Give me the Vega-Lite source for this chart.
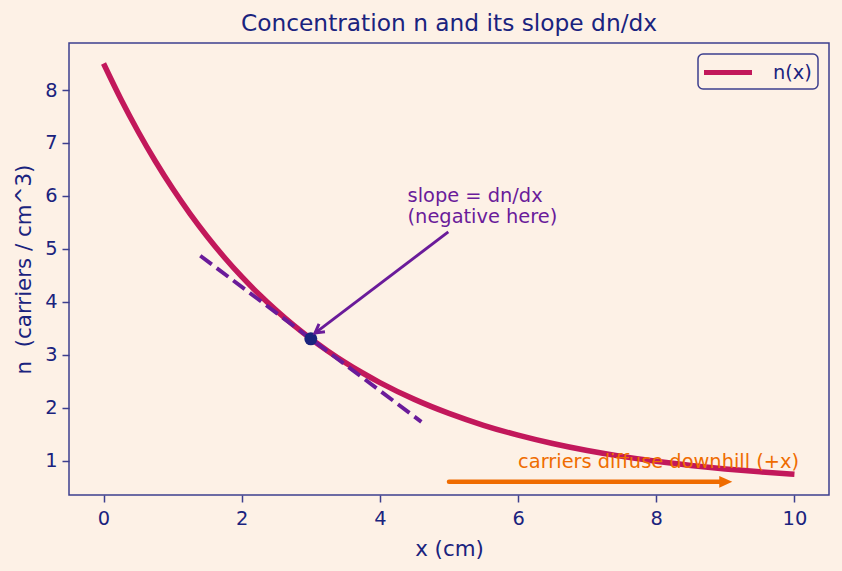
{
  "$schema": "https://vega.github.io/schema/vega-lite/v6.json",
  "width": 760,
  "height": 452,
  "autosize": {"type": "none"},
  "padding": {"left": 69, "top": 43, "right": 13, "bottom": 76},
  "background": "#fdf1e6",
  "title": {"text": "Concentration n and its slope dn/dx", "fontSize": 23.3, "font": "DejaVu Sans", "fontWeight": "normal", "color": "#1a237e", "offset": 7, "anchor": "middle"},
  "config": {
    "view": {"stroke": "#3d3f8e", "strokeWidth": 1.5, "fill": "#fdf1e6"},
    "axis": {"grid": false, "domain": false, "tickColor": "#3d3f8e", "tickWidth": 1.5, "tickSize": 7, "labelFont": "DejaVu Sans", "labelFontSize": 19.4, "labelColor": "#1a237e", "titleFont": "DejaVu Sans", "titleFontSize": 21.4, "titleFontWeight": "normal", "titleColor": "#1a237e"},
    "legend": {"strokeWidth": 1.5},
    "text": {"font": "DejaVu Sans"}
  },
  "layer": [
    {
      "data": {"values": [
        {"x": 0, "n": 8.5, "series": "n(x)"},
        {"x": 0.25, "n": 7.83, "series": "n(x)"},
        {"x": 0.5, "n": 7.217, "series": "n(x)"},
        {"x": 0.75, "n": 6.655, "series": "n(x)"},
        {"x": 1, "n": 6.139, "series": "n(x)"},
        {"x": 1.25, "n": 5.667, "series": "n(x)"},
        {"x": 1.5, "n": 5.235, "series": "n(x)"},
        {"x": 1.75, "n": 4.838, "series": "n(x)"},
        {"x": 2, "n": 4.475, "series": "n(x)"},
        {"x": 2.25, "n": 4.143, "series": "n(x)"},
        {"x": 2.5, "n": 3.838, "series": "n(x)"},
        {"x": 2.75, "n": 3.558, "series": "n(x)"},
        {"x": 3, "n": 3.302, "series": "n(x)"},
        {"x": 3.25, "n": 3.068, "series": "n(x)"},
        {"x": 3.5, "n": 2.853, "series": "n(x)"},
        {"x": 3.75, "n": 2.656, "series": "n(x)"},
        {"x": 4, "n": 2.475, "series": "n(x)"},
        {"x": 4.5, "n": 2.158, "series": "n(x)"},
        {"x": 5, "n": 1.893, "series": "n(x)"},
        {"x": 5.5, "n": 1.669, "series": "n(x)"},
        {"x": 6, "n": 1.482, "series": "n(x)"},
        {"x": 6.5, "n": 1.324, "series": "n(x)"},
        {"x": 7, "n": 1.192, "series": "n(x)"},
        {"x": 7.5, "n": 1.081, "series": "n(x)"},
        {"x": 8, "n": 0.988, "series": "n(x)"},
        {"x": 8.5, "n": 0.91, "series": "n(x)"},
        {"x": 9, "n": 0.844, "series": "n(x)"},
        {"x": 9.5, "n": 0.789, "series": "n(x)"},
        {"x": 10, "n": 0.742, "series": "n(x)"}
      ]},
      "mark": {"type": "line", "strokeWidth": 5.5, "interpolate": "monotone"},
      "encoding": {
        "x": {"field": "x", "type": "quantitative", "scale": {"domain": [-0.5, 10.5], "nice": false, "zero": false}, "axis": {"values": [0, 2, 4, 6, 8, 10], "format": "d", "title": "x (cm)", "labelPadding": 7, "titlePadding": 11}},
        "y": {"field": "n", "type": "quantitative", "scale": {"domain": [0.352, 8.888], "nice": false, "zero": false}, "axis": {"values": [1, 2, 3, 4, 5, 6, 7, 8], "format": "d", "title": "n\u00a0\u00a0(carriers / cm^3)", "labelPadding": 5, "titlePadding": 10}},
        "color": {"field": "series", "type": "nominal", "scale": {"domain": ["n(x)"], "range": ["#c2185b"]}, "legend": {"title": null, "orient": "top-right", "offset": 11, "symbolType": "M -1.25 0 L 3.55 0", "symbolSize": 400, "symbolStrokeWidth": 5, "labelFontSize": 19.4, "labelColor": "#1a237e", "labelFont": "DejaVu Sans", "labelOffset": 44, "strokeColor": "#3d3f8e", "fillColor": "#fdf1e6", "cornerRadius": 5, "padding": 6}}
      }
    },
    {
      "data": {"values": [{"x": 1.4, "n": 4.87}, {"x": 4.6, "n": 1.734}]},
      "mark": {"type": "line", "color": "#6a1b9a", "strokeWidth": 3.9, "strokeDash": [14.4, 6.2]},
      "encoding": {"x": {"field": "x", "type": "quantitative"}, "y": {"field": "n", "type": "quantitative"}}
    },
    {
      "data": {"values": [{"x": 3, "n": 3.302}]},
      "mark": {"type": "point", "shape": "circle", "filled": true, "size": 169, "color": "#1a237e", "opacity": 1},
      "encoding": {"x": {"field": "x", "type": "quantitative"}, "y": {"field": "n", "type": "quantitative"}}
    },
    {
      "data": {"values": [{"x": 4.99, "n": 5.32}, {"x": 3.06, "n": 3.41}]},
      "mark": {"type": "line", "color": "#6a1b9a", "strokeWidth": 2.9},
      "encoding": {"x": {"field": "x", "type": "quantitative"}, "y": {"field": "n", "type": "quantitative"}}
    },
    {
      "data": {"values": [{"x": 3.06, "n": 3.41}]},
      "mark": {"type": "point", "shape": "M -0.45 0.8 L 0 0 L 0.45 0.8", "filled": false, "size": 484, "angle": 233, "color": "#6a1b9a", "strokeWidth": 2.9, "opacity": 1},
      "encoding": {"x": {"field": "x", "type": "quantitative"}, "y": {"field": "n", "type": "quantitative"}}
    },
    {
      "data": {"values": [{"x": 5.0, "n": 0.6}, {"x": 8.95, "n": 0.6}]},
      "mark": {"type": "line", "color": "#ef6c00", "strokeWidth": 4.5, "strokeCap": "round"},
      "encoding": {"x": {"field": "x", "type": "quantitative"}, "y": {"field": "n", "type": "quantitative"}}
    },
    {
      "data": {"values": [{"x": 9.1, "n": 0.6}]},
      "mark": {"type": "point", "shape": "M -1 -0.45 L 0 0 L -1 0.45 Z", "filled": true, "size": 676, "color": "#ef6c00", "opacity": 1},
      "encoding": {"x": {"field": "x", "type": "quantitative"}, "y": {"field": "n", "type": "quantitative"}}
    },
    {
      "data": {"values": [{"x": 4.4, "n": 5.891, "label": "slope = dn/dx"}, {"x": 4.4, "n": 5.483, "label": "(negative here)"}]},
      "mark": {"type": "text", "align": "left", "baseline": "alphabetic", "fontSize": 19.4, "color": "#6a1b9a"},
      "encoding": {"x": {"field": "x", "type": "quantitative"}, "y": {"field": "n", "type": "quantitative"}, "text": {"field": "label"}}
    },
    {
      "data": {"values": [{"x": 6.0, "n": 0.857, "label": "carriers diffuse downhill (+x)"}]},
      "mark": {"type": "text", "align": "left", "baseline": "alphabetic", "fontSize": 19.4, "color": "#ef6c00"},
      "encoding": {"x": {"field": "x", "type": "quantitative"}, "y": {"field": "n", "type": "quantitative"}, "text": {"field": "label"}}
    }
  ]
}
